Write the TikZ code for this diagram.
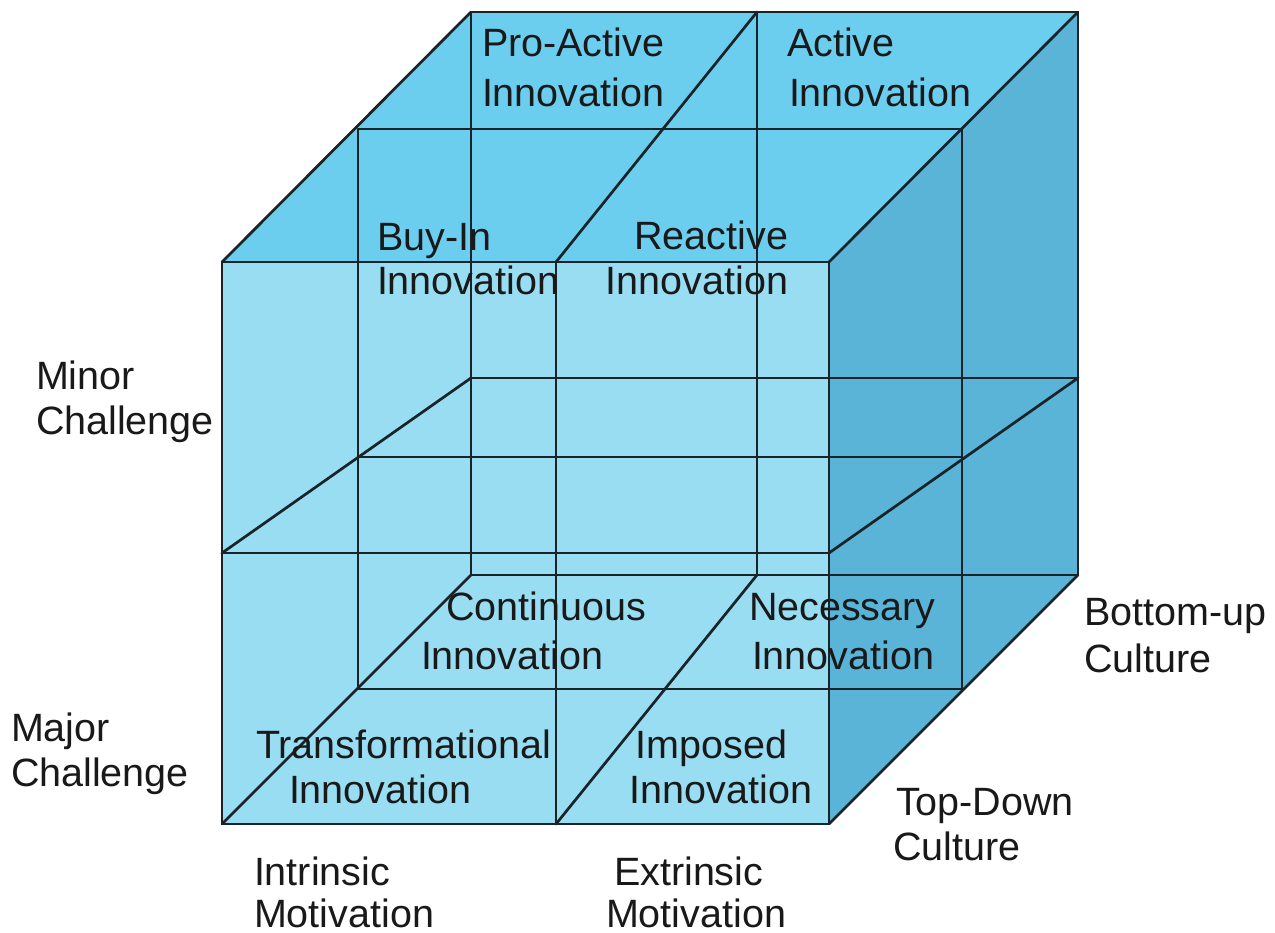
\documentclass[tikz,border=0pt]{standalone}
\usepackage{fontspec}
\setmainfont{Liberation Sans}
\definecolor{topface}{RGB}{108,206,238}
\definecolor{frontface}{RGB}{152,221,242}
\definecolor{sideface}{RGB}{89,180,216}
\definecolor{edge}{RGB}{25,35,40}
\tikzset{
  lbl/.style={inner sep=0pt, outer sep=0pt, anchor=base west, font=\fontsize{39.5}{47}\selectfont, text=black!90},
  lblr/.style={lbl, anchor=base east},
  edgeline/.style={draw=edge, line width=2.7pt, line cap=round, line join=round}
}
\begin{document}
\begin{tikzpicture}[x=1pt, y=-1pt]
\path[use as bounding box, fill=white] (0,0) rectangle (1275,933);
% front face
\coordinate (ftl) at (222,262); \coordinate (ftr) at (829,262);
\coordinate (fbl) at (222,824); \coordinate (fbr) at (829,824);
\coordinate (fml) at (222,553); \coordinate (fmr) at (829,553);
\coordinate (fmt) at (556,262); \coordinate (fmb) at (556,824);
% middle plane
\coordinate (mtl) at (358,129); \coordinate (mtr) at (962,129);
\coordinate (mbl) at (358,689); \coordinate (mbr) at (962,689);
\coordinate (mml) at (358,457); \coordinate (mmr) at (962,457);
% back face
\coordinate (btl) at (471,12); \coordinate (btr) at (1078,12);
\coordinate (bbl) at (471,575); \coordinate (bbr) at (1078,575);
\coordinate (bml) at (471,378); \coordinate (bmr) at (1078,378);
\coordinate (bmt) at (757,12); \coordinate (bmb) at (757,575);
% fills
\fill[topface] (ftl) -- (btl) -- (btr) -- (ftr) -- cycle;
\fill[sideface] (ftr) -- (btr) -- (bbr) -- (fbr) -- cycle;
\fill[frontface] (ftl) rectangle (fbr);
% back face lines
\draw[edgeline] (btl) rectangle (bbr);
\draw[edgeline] (bml) -- (bmr);
\draw[edgeline] (bmt) -- (bmb);
% middle plane lines
\draw[edgeline] (mtl) rectangle (mbr);
\draw[edgeline] (mml) -- (mmr);
% depth edges
\draw[edgeline] (ftl) -- (btl);
\draw[edgeline] (ftr) -- (btr);
\draw[edgeline] (fbl) -- (bbl);
\draw[edgeline] (fbr) -- (bbr);
\draw[edgeline] (fmt) -- (bmt);
\draw[edgeline] (fmb) -- (bmb);
\draw[edgeline] (fml) -- (bml);
\draw[edgeline] (fmr) -- (bmr);
% front face lines
\draw[edgeline] (ftl) rectangle (fbr);
\draw[edgeline] (fml) -- (fmr);
\draw[edgeline] (fmt) -- (fmb);
% cell labels
\node[lbl] (pa1) at (482,57) {Pro-Active};
\node[lbl] (pa2) at (482,107) {Innovation};
\node[lbl] (ac1) at (787,57) {Active};
\node[lbl] (ac2) at (789,107) {Innovation};
\node[lbl] (bi1) at (377,251) {Buy-In};
\node[lbl] (bi2) at (377,295) {Innovation};
\node[lblr] (re1) at (788,250) {Reactive};
\node[lblr] (re2) at (788,295) {Innovation};
\node[lbl] (co1) at (446,620) {Continuous};
\node[lbl] (co2) at (421,669) {Innovation};
\node[lbl] (ne1) at (749,620) {Necessary};
\node[lbl] (ne2) at (752,669) {Innovation};
\node[lbl] (tr1) at (256,758) {Transformational};
\node[lbl] (tr2) at (289,803) {Innovation};
\node[lblr] (im1) at (787,758) {Imposed};
\node[lblr] (im2) at (812,803) {Innovation};
% axis labels
\node[lbl] (mi1) at (36,389) {Minor};
\node[lbl] (mi2) at (36,434) {Challenge};
\node[lbl] (ma1) at (11,741) {Major};
\node[lbl] (ma2) at (11,786) {Challenge};
\node[lbl] (in1) at (254,885) {Intrinsic};
\node[lbl] (in2) at (254,927) {Motivation};
\node[lbl] (ex1) at (614,885) {Extrinsic};
\node[lbl] (ex2) at (606,927) {Motivation};
\node[lbl] (bu1) at (1084,625) {Bottom-up};
\node[lbl] (bu2) at (1084,672) {Culture};
\node[lbl] (td1) at (896,815) {Top-Down};
\node[lbl] (td2) at (893,860) {Culture};
\end{tikzpicture}
\end{document}
